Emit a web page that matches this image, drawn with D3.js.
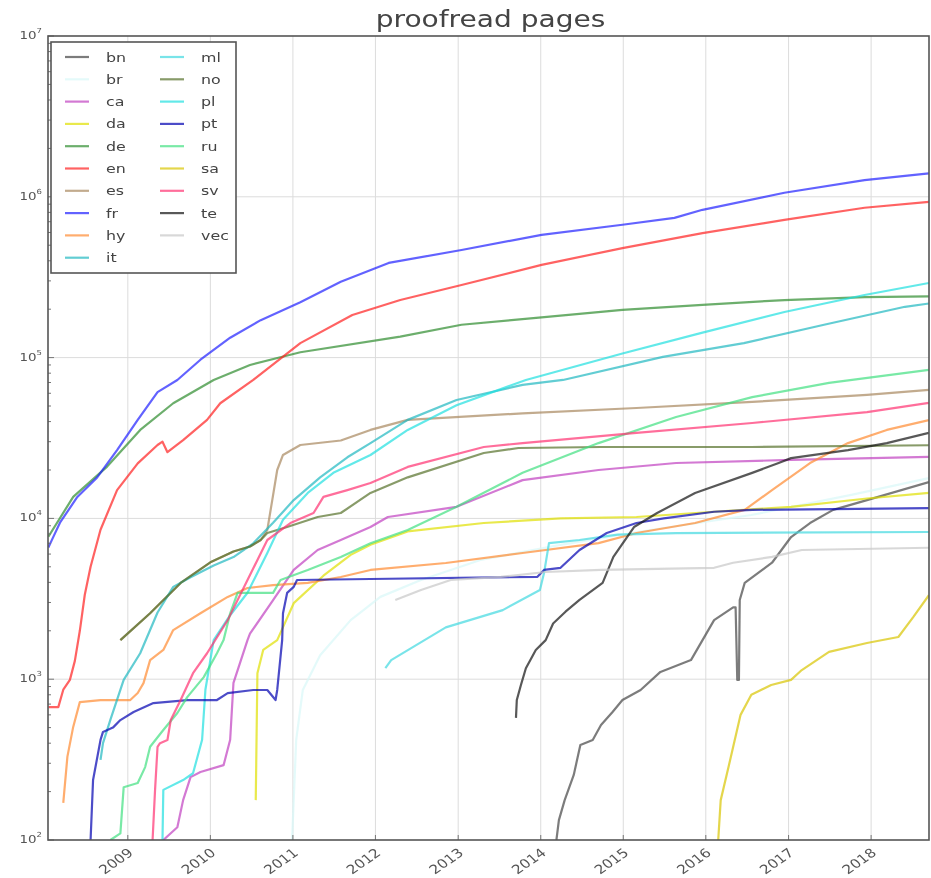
<!DOCTYPE html>
<html>
<head>
<meta charset="utf-8">
<script src="https://cdn.jsdelivr.net/npm/d3@7"></script>
<style>
  body { margin: 0; background: #fff; }
  svg { display: block; font-family: "DejaVu Sans", sans-serif; filter: blur(0.6px); }
</style>
</head>
<body>
<svg id="chart" width="931" height="878"></svg>
<script>
// legend order, colours, ticks
const languages = ["bn", "br", "ca", "da", "de", "en", "es", "fr", "hy", "it",
                   "ml", "no", "pl", "pt", "ru", "sa", "sv", "te", "vec"];
const colors = ["#444444", "#d8f8f8", "#c040c0", "#e0e000", "#2e8b2e", "#ff2020", "#a8875e",
                "#2020ff", "#ff8a30", "#20b8c0", "#40d8e0", "#55702a", "#20e0e0", "#0000b0",
                "#40e080", "#d8c400", "#ff3070", "#111111", "#c8c8c8"];
const yearTicks = [2009, 2010, 2011, 2012, 2013, 2014, 2015, 2016, 2017, 2018];
const yTicks = [1e2, 1e3, 1e4, 1e5, 1e6, 1e7];

// [decimal year, proofread pages]
const bn = [[2014.19,100],[2014.22,133],[2014.29,177],[2014.40,254],[2014.48,390],[2014.63,419],
  [2014.73,519],[2014.87,625],[2014.99,742],[2015.21,857],[2015.45,1110],[2015.82,1315],[2016.10,2330],
  [2016.33,2800],[2016.36,2800],[2016.38,990],[2016.40,990],[2016.41,3110],[2016.47,3970],[2016.80,5300],
  [2017.03,7660],[2017.26,9360],[2017.54,11300],[2017.95,13000],[2018.70,16800]];
const br = [[2010.99,100],[2011.04,419],[2011.12,857],[2011.33,1410],[2011.70,2330],[2012.06,3250],
  [2012.55,4140],[2013.27,5510],[2014.24,6850],[2015.33,8470],[2016.55,10500],[2017.76,14000],[2018.70,17800]];
const ca = [[2009.43,100],[2009.60,120],[2009.67,177],[2009.76,246],[2009.88,265],[2010.16,292],
  [2010.24,420],[2010.28,950],[2010.45,1750],[2010.48,1920],[2010.76,3100],[2011.01,4780],[2011.30,6360],
  [2011.58,7340],[2011.94,8840],[2012.15,10200],[2012.98,11800],[2013.78,17300],[2014.70,20000],
  [2015.64,22100],[2017.03,23100],[2018.70,24100]];
const da = [[2010.55,177],[2010.57,1090],[2010.64,1520],[2010.81,1750],[2011.01,2970],[2011.37,4400],
  [2011.70,5930],[2011.94,6850],[2012.39,8300],[2013.31,9360],[2014.24,10000],[2015.16,10200],
  [2016.10,11000],[2017.03,11800],[2017.95,13300],[2018.70,14400]];
const de = [[2008.04,7700],[2008.34,13600],[2008.75,21000],[2009.15,35500],[2009.55,52000],[2010.04,72600],
  [2010.48,90000],[2011.09,108000],[2012.30,135000],[2013.04,160000],[2014.01,178000],[2014.99,198000],
  [2015.96,213000],[2016.95,228000],[2017.92,238000],[2018.70,240000]];
const en = [[2008.04,670],[2008.16,670],[2008.22,860],[2008.30,990],[2008.36,1300],[2008.42,2000],
  [2008.48,3350],[2008.55,5000],[2008.67,8500],[2008.87,15000],[2009.12,22000],[2009.36,28600],
  [2009.42,30000],[2009.48,25800],[2009.67,30700],[2009.96,41000],[2010.12,52000],[2010.52,72600],
  [2011.09,123000],[2011.72,184000],[2012.30,228000],[2013.04,283000],[2014.01,377000],[2014.99,480000],
  [2015.96,595000],[2016.95,718000],[2017.92,855000],[2018.70,930000]];
const es = [[2008.91,1750],[2009.27,2570],[2009.64,3970],[2010.00,5330],[2010.28,6230],[2010.48,6690],
  [2010.61,7340],[2010.69,8470],[2010.75,13000],[2010.81,20000],[2010.88,24800],[2011.09,28600],
  [2011.58,30500],[2011.94,35500],[2012.39,41000],[2013.78,45000],[2015.16,48600],[2016.56,53000],
  [2017.95,58600],[2018.70,63000]];
const fr = [[2008.04,6600],[2008.08,7300],[2008.18,9400],[2008.39,13600],[2008.63,18000],[2008.87,26600],
  [2009.12,41000],[2009.36,61000],[2009.60,72600],[2009.88,97000],[2010.24,133000],[2010.61,171000],
  [2011.09,221000],[2011.58,296000],[2012.16,388000],[2013.04,467000],[2014.01,580000],[2014.99,670000],
  [2015.62,740000],[2015.96,830000],[2016.95,1060000],[2017.92,1270000],[2018.70,1400000]];
const hy = [[2008.22,170],[2008.27,330],[2008.34,505],[2008.42,720],[2008.67,742],[2009.03,742],
  [2009.12,820],[2009.19,945],[2009.27,1315],[2009.43,1520],[2009.55,2020],[2009.88,2570],[2010.21,3250],
  [2010.45,3690],[2010.76,3850],[2011.18,3970],[2011.58,4320],[2011.94,4780],[2012.85,5280],[2013.78,6090],
  [2014.70,7020],[2015.16,8110],[2015.87,9360],[2016.47,11300],[2016.80,15000],[2017.26,22100],
  [2017.72,29400],[2018.19,35500],[2018.70,40900]];
const it = [[2008.67,315],[2008.70,400],[2008.79,560],[2008.95,990],[2009.15,1450],[2009.36,2600],
  [2009.55,3750],[2009.76,4300],[2010.04,5100],[2010.28,5750],[2010.52,7000],[2010.76,9400],[2011.01,13000],
  [2011.33,18000],[2011.66,24000],[2011.94,29400],[2012.39,41000],[2012.98,54500],[2013.78,67600],
  [2014.27,72600],[2015.48,101000],[2016.46,123000],[2017.43,160000],[2018.41,207000],[2018.70,217000]];
const ml = [[2012.12,1170],[2012.19,1315],[2012.85,2100],[2013.54,2690],[2013.99,3590],[2014.04,4570],
  [2014.10,7020],[2014.47,7340],[2014.93,7930],[2015.64,8110],[2018.70,8230]];
const no = [[2008.91,1750],[2009.27,2570],[2009.64,3970],[2010.00,5330],[2010.28,6230],[2010.48,6690],
  [2010.61,7340],[2010.69,8110],[2010.93,8840],[2011.30,10200],[2011.58,10800],[2011.94,14400],
  [2012.39,18000],[2013.31,25500],[2013.73,27400],[2014.73,27800],[2016.55,27800],[2018.70,28500]];
const pl = [[2009.42,100],[2009.43,205],[2009.67,236],[2009.79,260],[2009.90,420],[2009.94,860],
  [2010.04,1750],[2010.24,2500],[2010.45,3450],[2010.69,6100],[2010.88,9800],[2011.18,14400],
  [2011.49,19200],[2011.94,24800],[2012.39,35500],[2012.98,50600],[2013.82,72600],[2014.99,106000],
  [2015.96,143000],[2016.95,192000],[2017.92,245000],[2018.70,291000]];
const pt = [[2008.55,100],[2008.58,236],[2008.67,419],[2008.70,470],[2008.82,500],[2008.91,557],
  [2009.07,625],[2009.31,710],[2009.72,742],[2010.08,742],[2010.21,820],[2010.52,857],[2010.69,857],
  [2010.79,742],[2010.81,857],[2010.87,1750],[2010.88,2570],[2010.93,3440],[2011.01,3750],[2011.05,4140],
  [2011.94,4200],[2013.96,4330],[2014.04,4780],[2014.24,4930],[2014.47,6360],[2014.80,8110],
  [2015.16,9360],[2015.49,10000],[2016.10,11000],[2016.56,11300],[2018.70,11600]];
const ru = [[2008.79,100],[2008.91,110],[2008.95,213],[2009.12,226],[2009.21,284],[2009.27,380],
  [2009.43,483],[2009.60,616],[2009.72,774],[2009.92,1030],[2010.08,1450],[2010.16,1750],[2010.24,2570],
  [2010.33,3440],[2010.76,3440],[2010.85,4140],[2011.18,4780],[2011.58,5760],[2011.94,7000],[2012.39,8470],
  [2012.98,11800],[2013.78,19200],[2014.70,29400],[2015.64,42700],[2016.56,56800],[2017.49,69600],
  [2018.70,83800]];
const sa = [[2016.15,100],[2016.18,177],[2016.28,293],[2016.42,600],[2016.55,800],[2016.79,920],
  [2017.03,990],[2017.16,1140],[2017.49,1480],[2017.95,1680],[2018.33,1830],[2018.51,2430],[2018.70,3330]];
const sv = [[2009.30,100],[2009.33,205],[2009.36,380],[2009.39,400],[2009.48,419],[2009.52,557],
  [2009.64,742],[2009.79,1090],[2009.96,1450],[2010.21,2330],[2010.45,4140],[2010.69,7340],[2010.97,9360],
  [2011.25,10800],[2011.37,13600],[2011.66,15000],[2011.94,16600],[2012.39,20900],[2013.31,27800],
  [2013.78,29400],[2015.16,34000],[2016.56,39200],[2017.95,45800],[2018.70,52300]];
const te = [[2013.70,575],[2013.71,742],[2013.76,920],[2013.82,1170],[2013.94,1520],[2014.06,1750],
  [2014.15,2220],[2014.30,2630],[2014.47,3110],[2014.75,3970],[2014.88,5760],[2015.13,8840],
  [2015.41,10800],[2015.87,14400],[2016.56,19200],[2016.88,22100],[2017.03,23700],[2017.72,26600],
  [2018.19,29400],[2018.70,34000]];
const vec = [[2012.24,3110],[2012.55,3590],[2012.91,4140],[2013.52,4330],[2014.06,4640],[2014.73,4780],
  [2016.10,4930],[2016.33,5300],[2016.80,5760],[2017.16,6360],[2018.70,6570]];

const seriesData = { bn, br, ca, da, de, en, es, fr, hy, it, ml, no, pl, pt, ru, sa, sv, te, vec };

// layout
const width = 931, height = 878;
const margin = { top: 36, right: 2, bottom: 38, left: 48 };
const innerW = width - margin.left - margin.right;
const innerH = height - margin.top - margin.bottom;
const stretch = 1.22; // the picture is wider than tall, text too

const fromYear = (v) => {
  const yr = Math.floor(v);
  const a = new Date(yr, 0, 1), b = new Date(yr + 1, 0, 1);
  return new Date(+a + (v - yr) * (b - a));
};

const svg = d3.select("#chart");
const g = svg.append("g").attr("transform", `translate(${margin.left},${margin.top})`);

const x = d3.scaleTime()
  .domain([new Date(2008, 0, 14), new Date(2018, 8, 14)])
  .range([0, innerW]);
const y = d3.scaleLog().domain([1e2, 1e7]).range([innerH, 0]);
const color = d3.scaleOrdinal().domain(languages).range(colors);

// grid
g.append("g").selectAll("line").data(yearTicks).enter().append("line")
  .attr("x1", d => x(new Date(d, 0, 1))).attr("x2", d => x(new Date(d, 0, 1)))
  .attr("y1", 0).attr("y2", innerH)
  .attr("stroke", "#dcdcdc").attr("stroke-width", 1);
g.append("g").selectAll("line").data(yTicks.slice(1, -1)).enter().append("line")
  .attr("x1", 0).attr("x2", innerW)
  .attr("y1", d => y(d)).attr("y2", d => y(d))
  .attr("stroke", "#dcdcdc").attr("stroke-width", 1);

// lines
svg.append("defs").append("clipPath").attr("id", "plot")
  .append("rect").attr("width", innerW).attr("height", innerH);

const line = d3.line()
  .x(d => x(fromYear(d[0])))
  .y(d => y(d[1]));

g.append("g").attr("clip-path", "url(#plot)")
  .selectAll("path").data(languages).enter().append("path")
  .attr("d", d => line(seriesData[d]))
  .attr("fill", "none")
  .attr("stroke", d => color(d))
  .attr("stroke-opacity", 0.7)
  .attr("stroke-width", 2.2)
  .attr("stroke-linejoin", "round");

// ticks
const minor = [];
for (let e = 2; e < 7; e++) for (let m = 2; m < 10; m++) minor.push(m * Math.pow(10, e));
g.append("g").selectAll("line").data(minor).enter().append("line")
  .attr("x1", 0).attr("x2", 3).attr("y1", d => y(d)).attr("y2", d => y(d))
  .attr("stroke", "#777");
g.append("g").selectAll("line").data(yTicks).enter().append("line")
  .attr("x1", 0).attr("x2", 6).attr("y1", d => y(d)).attr("y2", d => y(d))
  .attr("stroke", "#777");
g.append("g").selectAll("line").data(yearTicks).enter().append("line")
  .attr("x1", d => x(new Date(d, 0, 1))).attr("x2", d => x(new Date(d, 0, 1)))
  .attr("y1", innerH).attr("y2", innerH - 5)
  .attr("stroke", "#777");

// frame
g.append("rect").attr("width", innerW).attr("height", innerH)
  .attr("fill", "none").attr("stroke", "#555").attr("stroke-width", 1.6);

// y labels
const yl = g.append("g").selectAll("text").data(yTicks).enter().append("text")
  .attr("transform", d => `translate(-6,${y(d) + 3}) scale(${stretch},1)`)
  .attr("text-anchor", "end")
  .attr("font-size", 11).attr("fill", "#555");
yl.append("tspan").text("10");
yl.append("tspan").attr("dy", -6).attr("font-size", 7).text(d => Math.round(Math.log10(d)));

// x labels
g.append("g").selectAll("text").data(yearTicks).enter().append("text")
  .attr("transform", d => `translate(${x(new Date(d, 0, 1)) - 1},${innerH + 7}) scale(${stretch},1) rotate(-40)`)
  .attr("text-anchor", "end")
  .attr("dy", "0.75em")
  .attr("font-size", 12.5).attr("fill", "#555")
  .text(d => d);

// title
svg.append("text")
  .attr("transform", `translate(${margin.left + innerW / 2 + 2},27) scale(1.22,1)`)
  .attr("text-anchor", "middle")
  .attr("font-size", 23).attr("fill", "#444")
  .text("proofread pages");

// legend
const legend = g.append("g").attr("transform", "translate(3,6)");
legend.append("rect").attr("width", 185).attr("height", 231)
  .attr("fill", "#fff").attr("stroke", "#555").attr("stroke-width", 1.6);
const item = legend.selectAll("g.item").data(languages).enter().append("g")
  .attr("class", "item")
  .attr("transform", (d, i) => `translate(${i < 10 ? 14 : 109},${15 + (i % 10) * 22.3})`);
item.append("line").attr("x1", 0).attr("x2", 24)
  .attr("stroke", d => color(d)).attr("stroke-opacity", 0.7).attr("stroke-width", 2.2);
item.append("text")
  .attr("transform", `translate(41,0) scale(${stretch},1)`)
  .attr("dy", "0.35em")
  .attr("font-size", 13).attr("fill", "#444")
  .text(d => d);
</script>
</body>
</html>
